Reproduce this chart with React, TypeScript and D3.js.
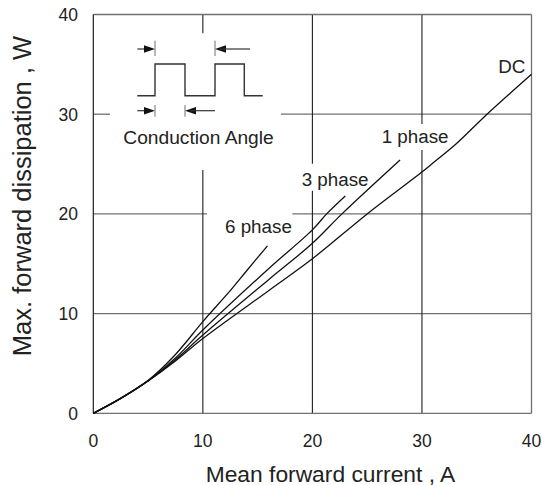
import React from "react";
import * as d3 from "d3";

const xTicks = [0, 10, 20, 30, 40];
const yTicks = [0, 10, 20, 30, 40];

const dcX = [0, 2.5, 5, 7.5, 10, 16, 20, 25, 30, 31, 33, 35.8, 40];
const dcY = [0, 1.5, 3.25, 5.25, 7.5, 12.3, 15.5, 20, 24.2, 25.1, 26.9, 29.85, 34];
const ph1X = [0, 2.5, 5, 7.5, 10, 16, 20, 22.7, 28];
const ph1Y = [0, 1.5, 3.25, 5.38, 7.85, 13.4, 17.05, 20, 25.4];
const ph3X = [0, 2.5, 5, 7.5, 10, 16, 20, 21.3, 23];
const ph3Y = [0, 1.5, 3.27, 5.55, 8.35, 14.5, 18.4, 20, 21.8];
const ph6X = [0, 2.5, 5, 7.5, 10, 12.5, 14, 15.9];
const ph6Y = [0, 1.5, 3.3, 5.9, 9.2, 12.3, 14.3, 16.8];

const seriesLabels = ["DC", "1 phase", "3 phase", "6 phase"];
const insetLabel = "Conduction Angle";
const xTitle = "Mean forward current , A";
const yTitle = "Max. forward dissipation , W";

const W = 542;
const H = 485;
const x = d3.scaleLinear().domain([0, 40]).range([93.3, 531.5]);
const y = d3.scaleLinear().domain([0, 40]).range([413.3, 14.5]);

const zip = (xs: number[], ys: number[]) => xs.map((v, i) => [v, ys[i]] as [number, number]);
const line = d3
  .line<[number, number]>()
  .x((d) => x(d[0]))
  .y((d) => y(d[1]))
  .curve(d3.curveCatmullRom.alpha(0.5));

const FONT = "'Liberation Sans', Arial, Helvetica, sans-serif";
const GRAY = "#707070";
const DARK = "#1e1e1e";

export default function App() {
  const x0 = x(0), x1 = x(40), y0 = y(0), y1 = y(40);
  const hSegs: [number, number, number][] = [
    [y(10), x0, x1],
    [y(20), x0, 207],
    [y(20), 292.3, x1],
    [y(30), x0, 110],
    [y(30), 281, x1],
  ];
  const vSegs: [number, number, number][] = [
    [x(10), y1, 33.3],
    [x(10), 170, y0],
    [x(20), y1, 163.8],
    [x(20), 190.8, y0],
    [x(30), y1, 124],
    [x(30), 150, y0],
  ];
  const curves = [zip(dcX, dcY), zip(ph1X, ph1Y), zip(ph3X, ph3Y), zip(ph6X, ph6Y)];
  const labelPos: [number, number][] = [
    [498.3, 72.7],
    [381.7, 142.7],
    [301.7, 186],
    [225, 233.3],
  ];

  const yLo = 95.7, yHi = 64;
  const wave: [number, number][] = [
    [137.3, yLo], [155, yLo], [155, yHi], [185, yHi], [185, yLo], [215, yLo],
    [215, yHi], [244.3, yHi], [244.3, yLo], [262.7, yLo],
  ];
  const arrowRight = (tip: number, yy: number) =>
    `M${tip},${yy} L${tip - 11},${yy - 3.8} L${tip - 11},${yy + 3.8} Z`;
  const arrowLeft = (tip: number, yy: number) =>
    `M${tip},${yy} L${tip + 11},${yy - 3.8} L${tip + 11},${yy + 3.8} Z`;

  return (
    <svg
      width={W}
      height={H}
      style={{ position: "absolute", left: 0, top: 0, background: "#fff" }}
      fontFamily={FONT}
    >
      <rect width={W} height={H} fill="#fff" />
      {hSegs.map(([yy, a, b], i) => (
        <line key={"h" + i} x1={a} x2={b} y1={yy} y2={yy} stroke={GRAY} strokeWidth={1.3} />
      ))}
      {vSegs.map(([xx, a, b], i) => (
        <line key={"v" + i} x1={xx} x2={xx} y1={a} y2={b} stroke={DARK} strokeWidth={1.1} />
      ))}
      <line x1={x0} x2={x1} y1={y1} y2={y1} stroke={GRAY} strokeWidth={1.3} />
      <line x1={x0} x2={x1} y1={y0} y2={y0} stroke={GRAY} strokeWidth={1.3} />
      <line x1={x1} x2={x1} y1={y1} y2={y0} stroke={GRAY} strokeWidth={1.3} />
      <line x1={x0} x2={x0} y1={y1} y2={y0} stroke={DARK} strokeWidth={1.2} />

      {curves.map((c, i) => (
        <path key={"c" + i} d={line(c) || ""} fill="none" stroke="#111" strokeWidth={1.3} />
      ))}
      {seriesLabels.map((t, i) => (
        <text key={"l" + i} x={labelPos[i][0]} y={labelPos[i][1]} fontSize={18.8} fill="#222">
          {t}
        </text>
      ))}

      <path d={d3.line()(wave) || ""} fill="none" stroke="#333" strokeWidth={1.4} />
      <line x1={137.3} x2={150} y1={49} y2={49} stroke="#333" strokeWidth={1.2} />
      <path d={arrowRight(155, 49)} fill="#111" />
      <line x1={155} x2={155} y1={40.7} y2={56} stroke={GRAY} strokeWidth={1} />
      <line x1={215} x2={215} y1={40.7} y2={56} stroke={GRAY} strokeWidth={1} />
      <path d={arrowLeft(215, 49)} fill="#111" />
      <line x1={220} x2={250} y1={49} y2={49} stroke="#333" strokeWidth={1.2} />
      <line x1={137.3} x2={150} y1={110.7} y2={110.7} stroke="#333" strokeWidth={1.2} />
      <path d={arrowRight(155, 110.7)} fill="#111" />
      <line x1={155} x2={155} y1={105} y2={116.7} stroke={GRAY} strokeWidth={1} />
      <line x1={185} x2={185} y1={105} y2={116.7} stroke={GRAY} strokeWidth={1} />
      <path d={arrowLeft(185, 110.7)} fill="#111" />
      <line x1={190} x2={215} y1={110.7} y2={110.7} stroke="#333" strokeWidth={1.2} />
      <text x={123.3} y={144} fontSize={19.2} fill="#222">
        {insetLabel}
      </text>

      {xTicks.map((t) => (
        <text key={"xt" + t} x={x(t)} y={447} textAnchor="middle" fontSize={17.5} fill="#222">
          {t}
        </text>
      ))}
      {yTicks.map((t) => (
        <text key={"yt" + t} x={78} y={y(t) + 6.5} textAnchor="end" fontSize={17.5} fill="#222">
          {t}
        </text>
      ))}

      <text x={330.5} y={481.5} textAnchor="middle" fontSize={22.8} fill="#222">
        {xTitle}
      </text>
      <text
        transform={`translate(31,196) rotate(-90)`}
        textAnchor="middle"
        fontSize={25.5}
        fill="#222"
      >
        {yTitle}
      </text>
    </svg>
  );
}
